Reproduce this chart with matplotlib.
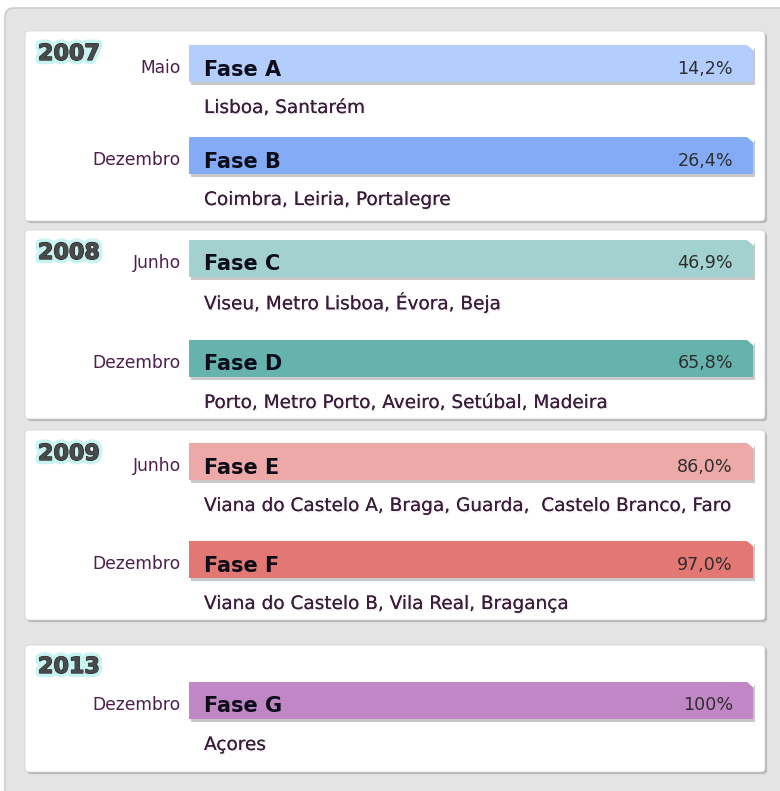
import matplotlib
matplotlib.use("Agg")
import matplotlib.pyplot as plt
from matplotlib.patches import FancyBboxPatch, Polygon
import matplotlib.patheffects as pe

plt.rcParams['font.family'] = ['DejaVu Sans']

# ---------------- data ----------------
years = ['2007', '2008', '2009', '2013']
phases = ['Fase A', 'Fase B', 'Fase C', 'Fase D', 'Fase E', 'Fase F', 'Fase G']
months = ['Maio', 'Dezembro', 'Junho', 'Dezembro', 'Junho', 'Dezembro', 'Dezembro']
coverage_labels = ['14,2%', '26,4%', '46,9%', '65,8%', '86,0%', '97,0%', '100%']
coverage = [14.2, 26.4, 46.9, 65.8, 86.0, 97.0, 100.0]
regions = [
    'Lisboa, Santarém',
    'Coimbra, Leiria, Portalegre',
    'Viseu, Metro Lisboa, Évora, Beja',
    'Porto, Metro Porto, Aveiro, Setúbal, Madeira',
    'Viana do Castelo A, Braga, Guarda,  Castelo Branco, Faro',
    'Viana do Castelo B, Vila Real, Bragança',
    'Açores',
]
bar_colors = ['#b3cefc', '#84abf6', '#a2d1cf', '#66b3ae', '#eca9a7', '#e27774', '#c086c5']

# ---------------- layout (pixels) ----------------
W, H = 780, 791
panel_tops = [31, 230, 430, 645]
panel_bottoms = [221, 419, 620, 772]
panel_left, panel_right = 25, 765
year_y = [54, 253, 454, 667]
bar_tops = [45, 137, 240, 340, 443, 541, 682]
bar_h = 37
bar_left, bar_right = 189, 753

fig = plt.figure(figsize=(W / 100, H / 100), dpi=100)
ax = fig.add_axes([0, 0, 1, 1])
ax.set_xlim(0, W)
ax.set_ylim(H, 0)
ax.axis('off')

# outer frame
ax.add_patch(FancyBboxPatch((5, 8), W + 20, H + 20,
                            boxstyle='round,pad=0,rounding_size=9',
                            facecolor='#e4e4e4', edgecolor='#cdcdcd', lw=1.2, zorder=0))

# panels
for t, b in zip(panel_tops, panel_bottoms):
    p = FancyBboxPatch((panel_left, t), panel_right - panel_left, b - t,
                       boxstyle='round,pad=0,rounding_size=4',
                       facecolor='white', edgecolor='#d6d6d6', lw=0.6, zorder=1)
    p.set_path_effects([pe.SimplePatchShadow(offset=(1.5, -1.5), shadow_rgbFace='#9a9a9a', alpha=0.6),
                        pe.Normal()])
    ax.add_patch(p)

# year labels
year_fx = [pe.withStroke(linewidth=6, foreground='#c8f3f3'),
           pe.withStroke(linewidth=0.9, foreground='#1e1e1e'),
           pe.Normal()]
for yr, yy in zip(years, year_y):
    ax.text(38, yy, yr, fontsize=16, fontweight='bold', color='#4a4a4a',
            ha='left', va='center', path_effects=year_fx, zorder=5)

# bars
bar_centers = [t + bar_h / 2 for t in bar_tops]
bar_w = [bar_right - bar_left] * len(phases)
bars = ax.barh(bar_centers, bar_w, left=bar_left, height=bar_h,
               color=bar_colors, edgecolor='none', zorder=3)
for rect in bars:
    rect.set_path_effects([pe.SimplePatchShadow(offset=(1.5, -2), shadow_rgbFace='#777777', alpha=0.4),
                           pe.Normal()])
    x0, y0 = rect.get_x(), rect.get_y()
    x1 = x0 + rect.get_width()
    c = 6
    ax.add_patch(Polygon([(x1 - c, y0), (x1 + 0.5, y0), (x1 + 0.5, y0 + c)], closed=True,
                         facecolor='white', edgecolor='none', zorder=4))

text_shadow = [pe.withSimplePatchShadow(offset=(1, -1), shadow_rgbFace='#000000', alpha=0.08),
               pe.Normal()]

for i, rect in enumerate(bars):
    yc = bar_centers[i]
    ax.text(204, yc + 6, phases[i], fontsize=15, fontweight='bold', color='#0d0d1a',
            ha='left', va='center', zorder=5)
    ax.text(733, yc + 5, coverage_labels[i], fontsize=12.6, color='#2e2e2e',
            ha='right', va='center', zorder=5)
    ax.text(181, yc + 4.5, months[i], fontsize=12.3, color='#4e1f4e',
            ha='right', va='center', zorder=5)
    ax.text(204, bar_tops[i] + bar_h + 26, regions[i], fontsize=13.3, color='#3a1c3a',
            ha='left', va='center', zorder=5, path_effects=text_shadow)

fig.savefig('out.png', dpi=100, facecolor='white')
